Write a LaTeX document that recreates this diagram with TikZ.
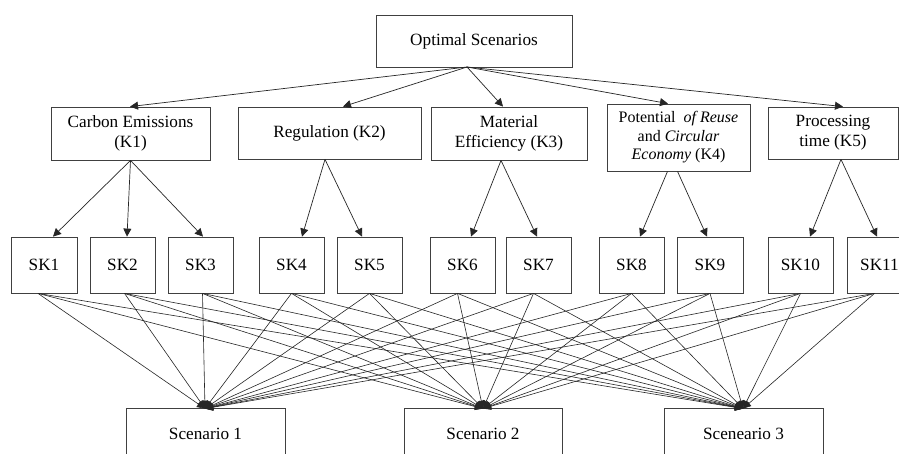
\documentclass[tikz,border=0pt]{standalone}
\usepackage{fontspec}
\setmainfont{Liberation Serif}
\usetikzlibrary{arrows.meta}
\begin{document}
\begin{tikzpicture}[x=1pt,y=-1pt,
  box/.style={draw=black!75,line width=0.8pt,rectangle,align=center,inner sep=0pt,
     font=\fontsize{17.2}{20}\selectfont},
  skbox/.style={box,minimum width=65pt,minimum height=56pt},
  scbox/.style={box,minimum width=159pt,minimum height=52pt},
  arr/.style={draw=black!85,line width=0.7pt,-{Triangle[length=8pt,width=8pt]}},
  link/.style={draw=black!85,line width=0.6pt,-{Triangle[length=8pt,width=7pt]}}]
\useasboundingbox (0,0) rectangle (899,454);
\clip (0,0) rectangle (899,454);
\fill[white] (0,0) rectangle (899,454);
% top
\node[box,minimum width=196pt,minimum height=52pt] (top) at (474,41) {Optimal Scenarios};
\coordinate (o) at (467,67);
% criteria
\node[box,minimum width=159pt,minimum height=53pt] (K1) at (130.5,133.5) {Carbon Emissions\\(K1)};
\node[box,minimum width=183pt,minimum height=52pt] (K2) at (329.5,133) {Regulation (K2)};
\node[box,minimum width=156pt,minimum height=53pt] (K3) at (509,133.5) {Material\\Efficiency (K3)};
\node[box,minimum width=143pt,minimum height=67pt,font=\fontsize{16}{18.5}\selectfont] (K4) at (678.5,137.5)
   {Potential \ \textit{of Reuse}\\and \textit{Circular}\\\textit{Economy} (K4)};
\node[box,minimum width=130pt,minimum height=52pt] (K5) at (833,133) {Processing\\time (K5)};
% sub-criteria
\node[skbox,minimum width=66pt] (SK1) at (44,265) {SK1};
\node[skbox] (SK2) at (122.5,265) {SK2};
\node[skbox] (SK3) at (200.5,265) {SK3};
\node[skbox] (SK4) at (291.5,265) {SK4};
\node[skbox] (SK5) at (369.5,265) {SK5};
\node[skbox] (SK6) at (462.5,265) {SK6};
\node[skbox] (SK7) at (538.5,265) {SK7};
\node[skbox] (SK8) at (631.5,265) {SK8};
\node[skbox,minimum width=66pt] (SK9) at (710,265) {SK9};
\node[skbox] (SK10) at (800.5,265) {SK10};
\node[skbox] (SK11) at (879.5,265) {SK11};
% scenarios
\node[scbox] (S1) at (205.5,434) {Scenario 1};
\node[scbox,minimum width=158pt] (S2) at (483,434) {Scenario 2};
\node[scbox] (S3) at (743.5,434) {Sceneario 3};
% top arrows
\draw[arr] (o) -- ([xshift=-0.5pt]K1.north);
\draw[arr] (o) -- ([xshift=13.5pt]K2.north);
\draw[arr] (o) -- ([xshift=-6pt]K3.north);
\draw[arr] (o) -- ([xshift=-10.5pt]K4.north);
\draw[arr] (o) -- ([xshift=10pt]K5.north);
% criteria to sub-criteria
\draw[arr] (K1.south) -- ([xshift=9pt]SK1.north);
\draw[arr] (K1.south) -- ([xshift=4.5pt]SK2.north);
\draw[arr] (K1.south) -- ([xshift=2.5pt]SK3.north);
\draw[arr] ([xshift=-4.5pt]K2.south) -- ([xshift=10.5pt]SK4.north);
\draw[arr] ([xshift=-4.5pt]K2.south) -- ([xshift=-7.5pt]SK5.north);
\draw[arr] ([xshift=-8pt]K3.south) -- ([xshift=8.5pt]SK6.north);
\draw[arr] ([xshift=-8pt]K3.south) -- ([xshift=-1.5pt]SK7.north);
\draw[arr] ([xshift=-11pt]K4.south) -- ([xshift=8.5pt]SK8.north);
\draw[arr] ([xshift=-1pt]K4.south) -- ([xshift=-3pt]SK9.north);
\draw[arr] ([xshift=8pt]K5.south) -- ([xshift=9.5pt]SK10.north);
\draw[arr] ([xshift=8pt]K5.south) -- ([xshift=-2.5pt]SK11.north);
% sub-criteria to scenarios
\foreach \s/\dx in {SK1/-6,SK2/2,SK3/2,SK4/0,SK5/0,SK6/-5,SK7/-5,SK8/0,SK9/0,SK10/0,SK11/-5}{
  \foreach \t/\tx in {S1/-0.5,S2/0,S3/-0.5}{
    \draw[link] ([xshift=\dx pt]\s.south) -- ([xshift=\tx pt, yshift=-1pt]\t.north);
  }
}
\end{tikzpicture}
\end{document}
